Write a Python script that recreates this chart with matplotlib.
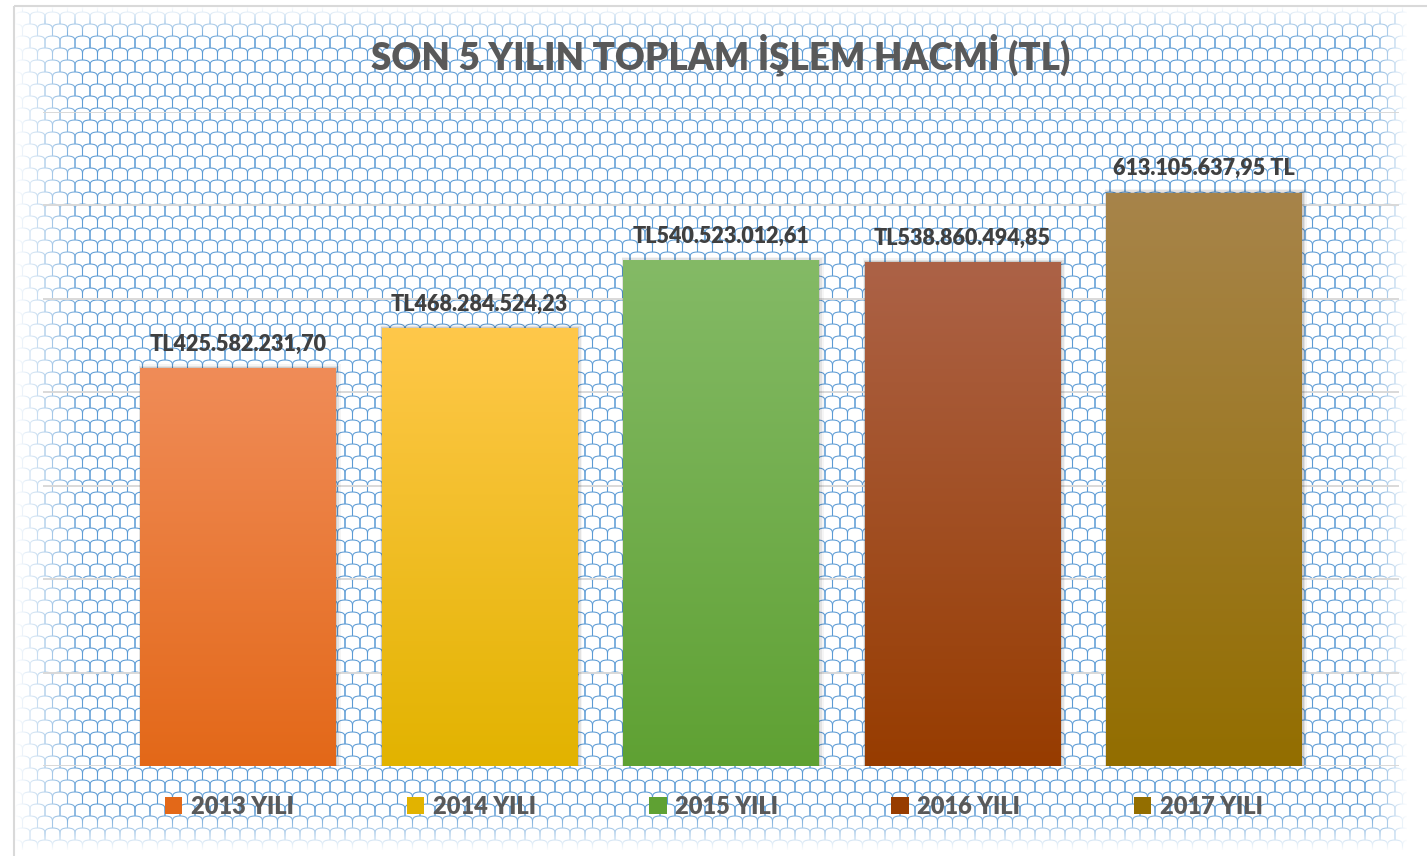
import numpy as np
import matplotlib
matplotlib.use("Agg")
import matplotlib.pyplot as plt
from matplotlib.collections import LineCollection
from matplotlib.patches import Rectangle
from matplotlib.colors import LinearSegmentedColormap

# -----------------------------
# DATA
# -----------------------------
years = ["2013 YILI", "2014 YILI", "2015 YILI", "2016 YILI", "2017 YILI"]
volumes = [425582231.70, 468284524.23, 540523012.61, 538860494.85, 613105637.95]
value_labels = ["TL425.582.231,70", "TL468.284.524,23", "TL540.523.012,61",
                "TL538.860.494,85", "613.105.637,95 TL"]
top_colors = ["#F08C58", "#FFC84A", "#84BA66", "#AC6247", "#A7844A"]
bottom_colors = ["#E36818", "#E2B300", "#5FA133", "#973C00", "#936E00"]
title = "SON 5 YILIN TOPLAM İŞLEM HACMİ (TL)"

W, H = 1427, 856
FONT = ["Lato", "DejaVu Sans"]

fig = plt.figure(figsize=(W / 100, H / 100), dpi=100)
fig.patch.set_facecolor("white")

# -----------------------------
# PATTERNED BACKGROUND
# -----------------------------
bg = fig.add_axes([0, 0, 1, 1], zorder=0)
bg.set_xlim(0, W)
bg.set_ylim(H, 0)
bg.axis("off")

P, V = 15.0, 12.0
t = np.linspace(-1, 1, 15)
segs = []
for j in range(-1, int(H / V) + 2):
    off = (j % 2) * P / 2
    for i in range(-1, int(W / P) + 2):
        cx = i * P + off
        xs = cx + t * P / 2 + 2.5 * np.sin(np.pi * t)
        ys = j * V + V - V * np.sqrt(np.clip(1 - t ** 2, 0, 1))
        segs.append(np.column_stack([xs, ys]))
bg.add_collection(LineCollection(segs, colors="#5B9BD5", linewidths=0.75, zorder=1))

# fade the pattern out near the border
xx = np.arange(W)
yy = np.arange(H)
fx = np.minimum(np.clip((xx - 14) / 70.0, 0, 1), np.clip((W - 20 - xx) / 40.0, 0, 1))
fy = np.minimum(np.clip((yy - 6) / 35.0, 0, 1), np.clip((H - 6 - yy) / 40.0, 0, 1))
fade = np.minimum(fx[None, :], fy[:, None])
overlay = np.ones((H, W, 4))
overlay[..., 3] = 1 - fade
bg.imshow(overlay, extent=[0, W, H, 0], zorder=2, interpolation="bilinear")
bg.add_patch(Rectangle((14, 6), W, H, fill=False, edgecolor="#D9D9D9", linewidth=1.5, zorder=3))

# -----------------------------
# BARS
# -----------------------------
ax = fig.add_axes([43 / W, 1 - 766 / H, (1399 - 43) / W, (766 - 112) / H], zorder=2)
ax.patch.set_alpha(0)
x = np.arange(len(years))
bars = ax.bar(x, volumes, width=0.81, color="none", zorder=3)
ax.set_xlim(-0.807, 4.807)
ax.set_ylim(0, 700e6)
ax.set_yticks(np.arange(0, 701e6, 100e6))
ax.yaxis.grid(True, color="#D9D9D9", linewidth=1.4, zorder=0)
ax.set_axisbelow(True)
ax.tick_params(left=False, bottom=False, labelleft=False, labelbottom=False)
for s in ax.spines.values():
    s.set_visible(False)

grad = np.linspace(0, 1, 256).reshape(-1, 1)
for b, c0, c1, lab in zip(bars, top_colors, bottom_colors, value_labels):
    x0, y0 = b.get_x(), b.get_y()
    w, h = b.get_width(), b.get_height()
    # soft shadow
    for k, a in enumerate([0.10, 0.07, 0.04]):
        d = 0.004 * (k + 1)
        ax.add_patch(Rectangle((x0 - d * 0.5, y0), w + d * 2.2, h + 1.5e6 * (k + 1),
                               color="#000000", alpha=a, linewidth=0, zorder=2))
    cmap = LinearSegmentedColormap.from_list("g", [c0, c1])
    ax.imshow(grad, cmap=cmap, extent=[x0, x0 + w, y0, y0 + h], aspect="auto",
              origin="upper", zorder=3)
    ax.annotate(lab, (x0 + w / 2, h), xytext=(0, 10), textcoords="offset points",
                ha="center", va="bottom", fontsize=15.5, fontweight="heavy",
                color="#404040", family=FONT, zorder=5)
ax.axhline(0, color="#D9D9D9", linewidth=1.4, zorder=1)

# -----------------------------
# TITLE + LEGEND
# -----------------------------
fig.text(0.505, 1 - 55 / H, title, ha="center", va="center", fontsize=26.5,
         fontweight="heavy", color="#595959", family=FONT, zorder=5)

handles = [Rectangle((0, 0), 1, 1, facecolor=c) for c in bottom_colors]
leg = fig.legend(handles, years, loc="center", bbox_to_anchor=(0.5, 1 - 807 / H), ncol=5,
                 frameon=False, handlelength=0.75, handleheight=0.75, handletextpad=0.35,
                 columnspacing=4.8, prop={"family": FONT, "weight": "heavy", "size": 17})
for txt in leg.get_texts():
    txt.set_color("#595959")

fig.savefig("out.png", dpi=100)
